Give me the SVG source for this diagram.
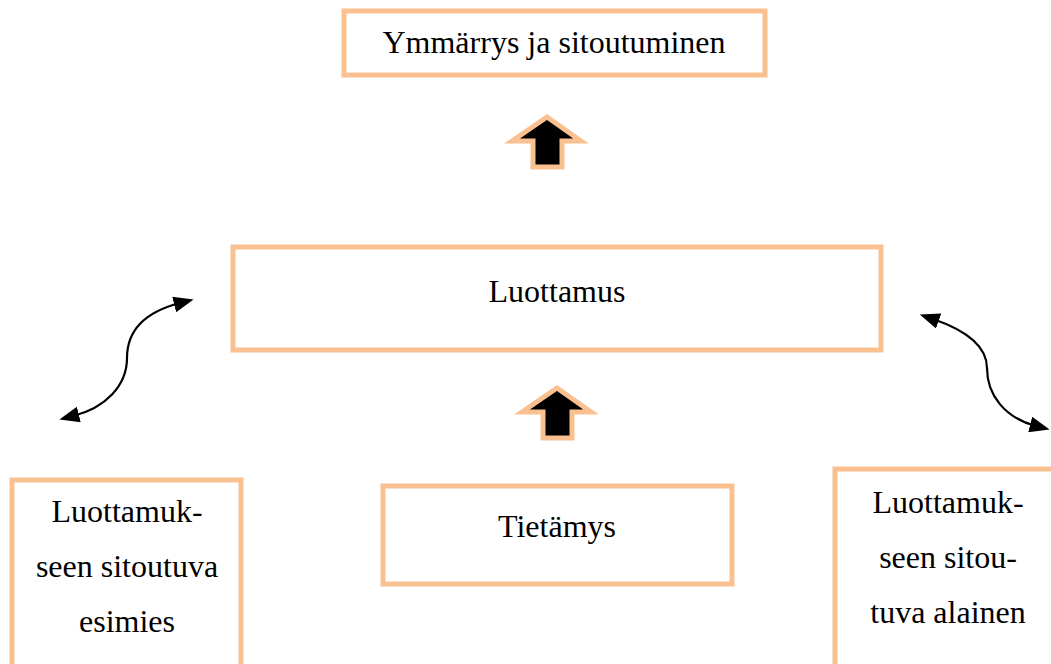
<svg xmlns="http://www.w3.org/2000/svg" width="1051" height="664" viewBox="0 0 1051 664">
<style>
.box{fill:#fff;stroke:#FAC090;stroke-width:5}
.t{font-family:"Liberation Serif","Times New Roman",serif;font-size:32px;fill:#000;text-anchor:middle}
.up{fill:#000;stroke:#FAC090;stroke-width:5;stroke-linejoin:miter}
.con{fill:none;stroke:#000;stroke-width:2.2}
</style>
<defs>
<marker id="ah2" viewBox="0 0 10 10" refX="3" refY="5" markerWidth="20" markerHeight="16" orient="auto-start-reverse" markerUnits="userSpaceOnUse" preserveAspectRatio="none">
<path d="M0,0 L10,5 L0,10 z" fill="#000"/>
</marker>
</defs>
<rect width="1051" height="664" fill="#fff"/>
<g id="top">
<rect class="box" x="344" y="11" width="421" height="64"/>
<text class="t" x="554" y="53">Ymmärrys ja sitoutuminen</text>
</g>
<g id="luottamus">
<rect class="box" x="233" y="247" width="648" height="103"/>
<text class="t" x="557" y="302">Luottamus</text>
</g>
<g id="tietamys">
<rect class="box" x="383" y="486" width="349" height="98"/>
<text class="t" x="557" y="537">Tietämys</text>
</g>
<g id="esimies">
<rect class="box" x="12" y="480" width="229" height="200"/>
<text class="t" x="127" y="522">Luottamuk-</text>
<text class="t" x="127" y="577">seen sitoutuva</text>
<text class="t" x="127" y="632">esimies</text>
</g>
<g id="alainen">
<rect class="box" x="835" y="469" width="240" height="220"/>
<text class="t" x="948" y="513">Luottamuk-</text>
<text class="t" x="948" y="568">seen sitou-</text>
<text class="t" x="948" y="623">tuva alainen</text>
</g>
<g id="connectors">
<polygon class="up" points="547,117 581,141 562,141 562,167 533,167 533,141 512,141"/>
<polygon class="up" points="557,388 591,412 572,412 572,438 543,438 543,412 522,412"/>
<path class="con" d="M180,303 C145,312 127,330 127,358 C127,386 105,408 73,416" marker-start="url(#ah2)" marker-end="url(#ah2)"/>
<path class="con" d="M933,319 C965,330 987,345 987,368 C987,395 1005,418 1036,426" marker-start="url(#ah2)" marker-end="url(#ah2)"/>
</g>
</svg>
